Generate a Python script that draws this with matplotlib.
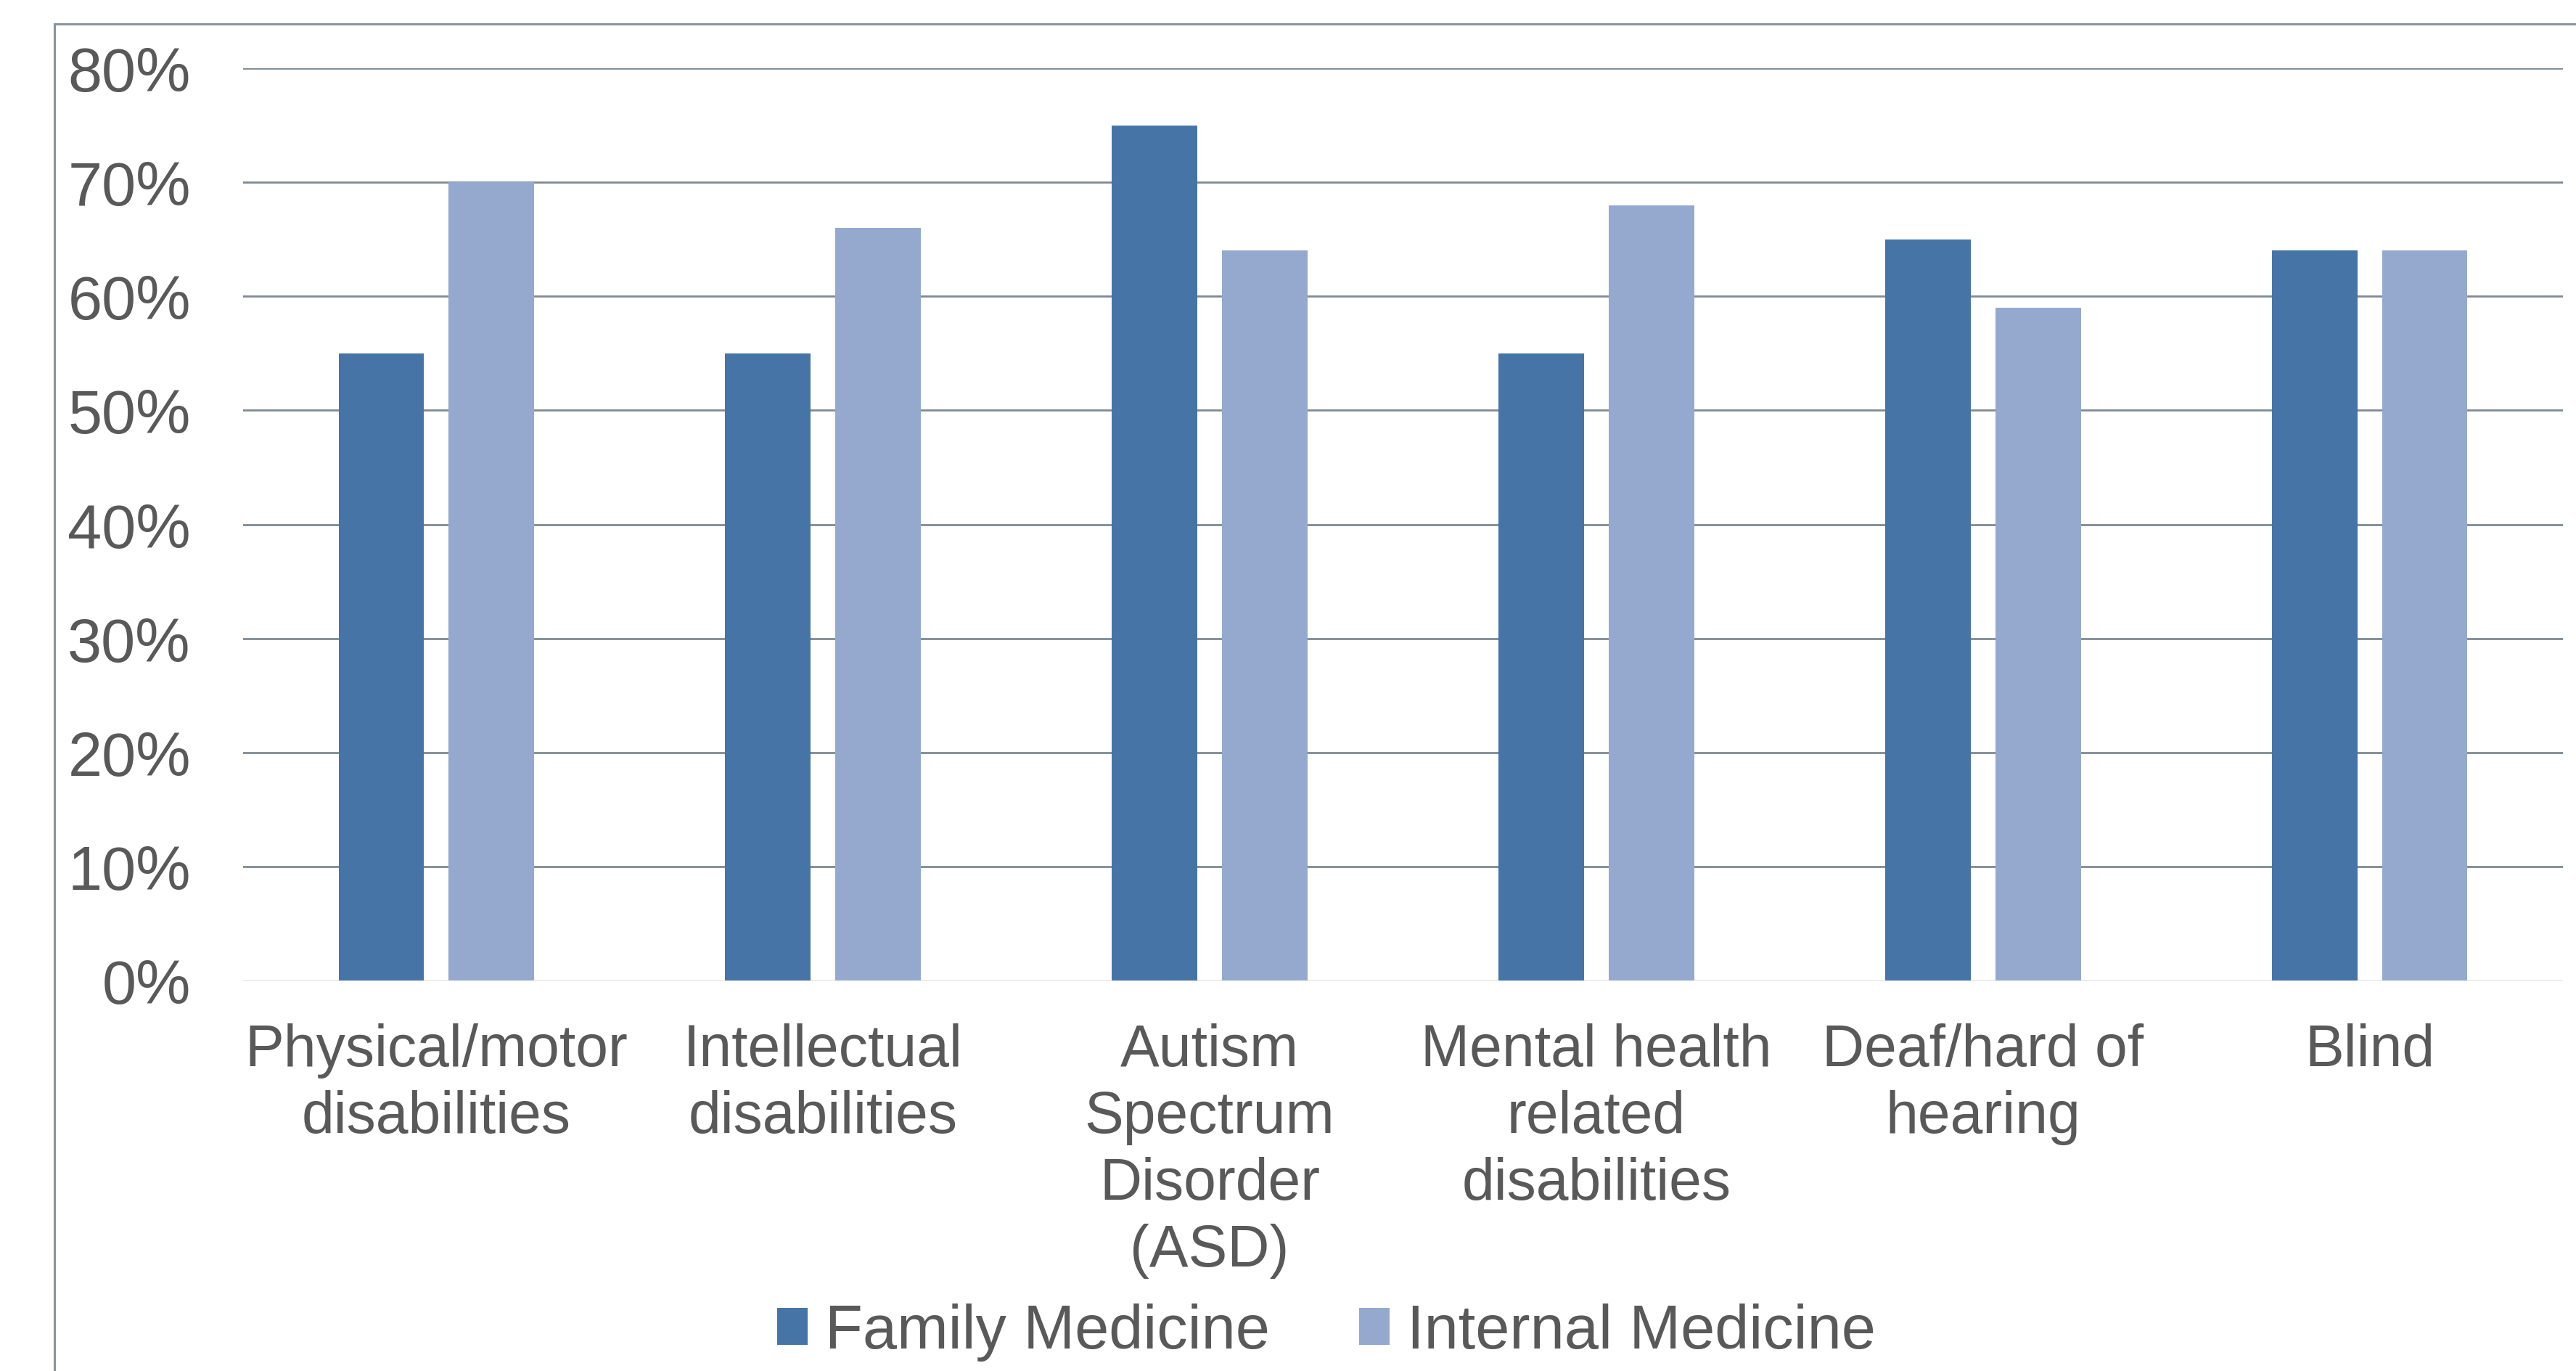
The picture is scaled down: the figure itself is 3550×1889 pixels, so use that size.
import matplotlib.pyplot as plt
import numpy as np
from matplotlib.patches import Rectangle

plt.rcParams['font.family'] = ['Liberation Sans', 'DejaVu Sans']

categories = ['Physical/motor\ndisabilities', 'Intellectual\ndisabilities',
              'Autism\nSpectrum\nDisorder\n(ASD)', 'Mental health\nrelated\ndisabilities',
              'Deaf/hard of\nhearing', 'Blind']
family_med = [0.55, 0.55, 0.75, 0.55, 0.65, 0.64]
internal_med = [0.70, 0.66, 0.64, 0.68, 0.59, 0.64]
yticks = [0, 0.1, 0.2, 0.3, 0.4, 0.5, 0.6, 0.7, 0.8]

text_col = '#595959'
grid_col = '#7f8a92'
fm_col = '#4674a7'
im_col = '#95a9cf'

W, H = 3550, 1890
fig = plt.figure(figsize=(W / 100, H / 100), dpi=100)

# outer chart frame, cut off on the right and bottom
fig.patches.append(Rectangle((75 / W, -0.1), 1.2, (H - 34) / H + 0.1,
                             transform=fig.transFigure, fill=False,
                             edgecolor='#8a949c', lw=2.2))

ax = fig.add_axes([335 / W, 1 - 1352 / H, (3532 - 335) / W, (1352 - 95) / H])

x = np.arange(len(categories))
w = 0.221
off = 0.1425
ax.bar(x - off, family_med, w, color=fm_col, label='Family Medicine', zorder=3)
ax.bar(x + off, internal_med, w, color=im_col, label='Internal Medicine', zorder=3)

ax.set_xlim(-0.5, len(categories) - 0.5)
ax.set_ylim(0, 0.8)
ax.set_yticks(yticks)
ax.set_yticklabels([f'{int(round(v * 100))}%' for v in yticks])
for v in yticks[1:]:
    ax.axhline(v, color=grid_col, lw=2, zorder=1)
ax.axhline(0, color='#d9d9d9', lw=2, zorder=1)

for s in ax.spines.values():
    s.set_visible(False)

ax.tick_params(axis='y', length=0, pad=52, labelsize=61, labelcolor=text_col)
ax.tick_params(axis='x', length=0, pad=42, labelsize=58, labelcolor=text_col)
ax.set_xticks(x)
ax.set_xticklabels(categories, linespacing=1.27)

fig.legend(loc='center', bbox_to_anchor=(1828 / W, 1 - 1836 / H), ncol=2,
           frameon=False, fontsize=61, labelcolor=text_col,
           handlelength=0.5, handleheight=0.55, handletextpad=0.28,
           columnspacing=1.45)

fig.savefig('out.png', dpi=100, facecolor='white')
